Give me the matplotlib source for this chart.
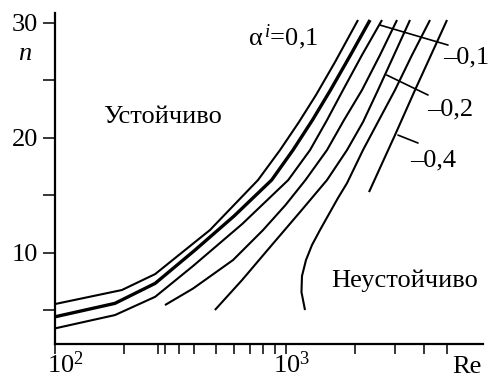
import matplotlib
matplotlib.use('Agg')
import matplotlib.pyplot as plt
import matplotlib.transforms as mtransforms

plt.rcParams['font.family'] = ['Liberation Serif', 'DejaVu Serif']
plt.rcParams['mathtext.fontset'] = 'custom'
plt.rcParams['mathtext.rm'] = 'Liberation Serif'
plt.rcParams['mathtext.it'] = 'Liberation Serif:italic'
plt.rcParams['mathtext.bf'] = 'Liberation Serif:bold'

# ---- data (Re, n) ----
c1_re = [100, 195, 272, 405, 470, 760, 947, 1144, 1356, 1640, 2063]
c1_n = [5.53, 6.75, 8.14, 10.93, 11.97, 16.33, 18.94, 21.38, 23.73, 26.60, 30.26]

c2_re = [100, 182, 272, 405, 598, 871, 1078, 1309, 1567, 1914, 2326]
c2_n = [4.42, 5.59, 7.33, 10.23, 13.19, 16.33, 18.94, 21.55, 24.16, 27.21, 30.26]

c3_re = [100, 182, 272, 397, 648, 1028, 1278, 1514, 1776, 2147, 2622]
c3_n = [3.41, 4.57, 6.16, 8.84, 12.49, 16.33, 18.94, 21.55, 24.16, 27.21, 30.26]

c4_re = [300, 397, 592, 799, 1000, 1221, 1514, 1794, 2147, 2570, 3046]
c4_n = [5.44, 6.88, 9.36, 11.97, 14.15, 16.33, 18.94, 21.55, 24.16, 27.21, 30.26]

c5_re = [494, 648, 857, 1156, 1514, 1849, 2169, 2519, 2956, 3468]
c5_n = [5.01, 7.62, 10.49, 13.54, 16.33, 18.94, 21.38, 24.16, 27.21, 30.26]

c6_re = [1215, 1173, 1179, 1227, 1303, 1411, 1544, 1689, 1849, 2169, 2544, 2985, 3539, 4236]
c6_n = [5.01, 6.57, 7.97, 9.36, 10.67, 11.97, 13.37, 14.76, 16.06, 18.94, 21.55, 24.16, 27.21, 30.26]

c7_re = [2303, 2985, 3646, 5020]
c7_n = [15.28, 20.24, 24.16, 30.26]

curves = [(c1_re, c1_n, 1.5), (c2_re, c2_n, 2.4), (c3_re, c3_n, 1.5),
          (c4_re, c4_n, 1.5), (c5_re, c5_n, 1.5), (c6_re, c6_n, 1.5),
          (c7_re, c7_n, 1.5)]

# leader lines (start on curve -> end near label)
leader_start = [(2570, 29.82), (2748, 25.47), (3076, 20.24)]
leader_end = [(5070, 28.08), (4152, 23.73), (3757, 19.55)]
leader_labels = ['–0,1', '–0,2', '–0,4']
leader_label_pos = [(4824, 26.51), (4100, 21.98), (3468, 17.54)]

x_major = [100, 1000]
x_major_labels = [r'$10^2$', r'$10^3$']
x_minor = [200, 280, 300, 345, 400, 500, 600, 700, 800, 900,
           2000, 3000, 4000, 5000]
y_major = [10, 20, 30]
y_minor = [5, 15, 25]

FS = 19

fig = plt.figure(figsize=(4.88, 3.78), dpi=100)
ax = fig.add_axes([0.1127, 0.0899, 0.9898 - 0.1127, 0.9656 - 0.0899])
ax.set_xscale('log')
ax.set_xlim(100, 7193)
ax.set_ylim(2.05, 30.87)

for re, n, lw in curves:
    ax.plot(re, n, color='black', lw=lw, solid_joinstyle='round',
            solid_capstyle='butt', clip_on=False)

for (s, e) in zip(leader_start, leader_end):
    ax.annotate('', xy=s, xytext=e,
                arrowprops=dict(arrowstyle='-', lw=1.2, color='black',
                                shrinkA=0, shrinkB=0))
for lab, (x, y) in zip(leader_labels, leader_label_pos):
    ax.text(x, y, lab, fontsize=FS, ha='left', va='baseline')

ax.text(688, 28.08, r'α$^{\,i}$=0,1', fontsize=FS, ha='left', va='baseline')
ax.text(161.5, 21.29, 'Устойчиво', fontsize=FS, ha='left', va='baseline')
ax.text(1575, 7.01, 'Неустойчиво', fontsize=FS, ha='left', va='baseline')

for s in ['top', 'right']:
    ax.spines[s].set_visible(False)
for s in ['left', 'bottom']:
    ax.spines[s].set_linewidth(1.6)

ax.set_xticks(x_major)
ax.set_xticklabels([])
ax.set_xticks(x_minor, minor=True)
ax.set_xticklabels([], minor=True)
ax.set_yticks(y_major)
ax.set_yticklabels([str(v) for v in y_major], fontsize=FS)
ax.set_yticks(y_minor, minor=True)
ax.tick_params(axis='x', which='both', direction='out', length=7.2, width=1.1)
ax.tick_params(axis='y', which='both', direction='out', length=8.6, width=1.1,
               pad=3.6)

xform = ax.get_xaxis_transform()
offsets = [10, 6]
base_y = (344 - 373) / 331
for xv, lab, off in zip(x_major, x_major_labels, offsets):
    tr = xform + mtransforms.ScaledTranslation(off / 100, 0, fig.dpi_scale_trans)
    ax.text(xv, base_y, lab, transform=tr, fontsize=FS, ha='center',
            va='baseline', clip_on=False)

fig.text(466.5 / 488, 1 - 373 / 378, 'Re', fontsize=FS, ha='center', va='baseline')
fig.text(25 / 488, 1 - 60 / 378, 'n', fontsize=FS, style='italic',
         ha='center', va='baseline')

fig.savefig('out.png', dpi=100)
